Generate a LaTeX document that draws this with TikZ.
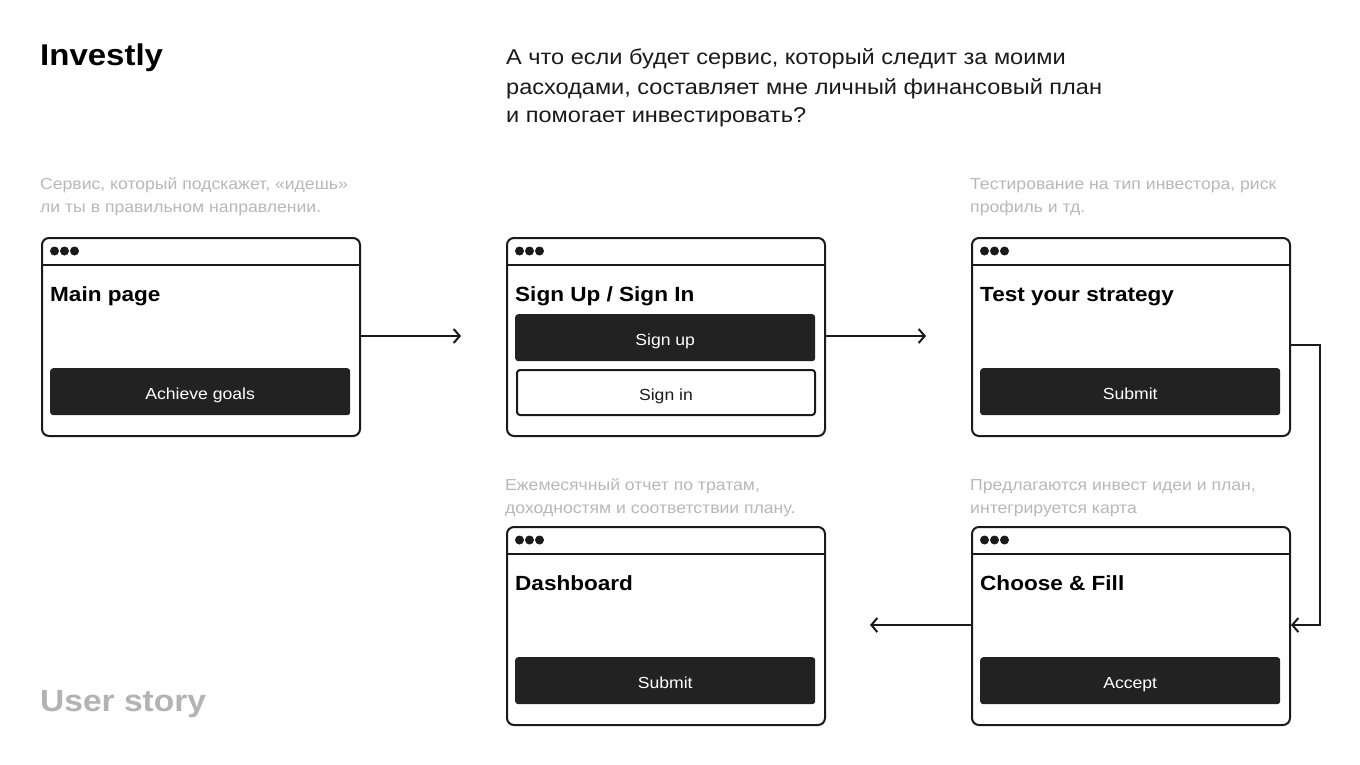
\documentclass[tikz,border=0pt]{standalone}
\usepackage{fontspec}
\setmainfont{Liberation Sans}[FakeStretch=1.1]
\usetikzlibrary{arrows.meta}
\definecolor{ink}{HTML}{1A1A1A}
\definecolor{btnfill}{HTML}{222222}
\definecolor{notegray}{HTML}{B8B8B8}
\definecolor{storygray}{HTML}{B3B3B3}
\tikzset{
  win/.style={draw=ink, line width=2pt, rounded corners=7pt, minimum width=318pt, minimum height=198pt, inner sep=0pt, anchor=north west, fill=white},
  hdr/.style={draw=ink, line width=2pt},
  dotc/.style={fill=ink, draw=none},
  ttl/.style={anchor=base west, inner sep=0pt, text=black, font=\fontsize{20.5}{24}\selectfont\bfseries},
  btnbox/.style={fill=btnfill, rounded corners=3pt, minimum width=300pt, minimum height=47pt, inner sep=0pt, text=white, text height=16pt, text depth=0pt, font=\fontsize{16}{20}\selectfont},
  btnline/.style={draw=ink, line width=2pt, fill=white, rounded corners=3pt, minimum width=298pt, minimum height=45pt, inner sep=0pt, text=ink, text height=16pt, text depth=0pt, font=\fontsize{16}{20}\selectfont},
  notetxt/.style={anchor=base west, inner sep=0pt, align=left, text=notegray, font=\fontsize{16}{23}\selectfont},
  arr/.style={draw=ink, line width=2pt, -{Straight Barb[length=6pt,width=14pt,line width=2pt]}},
}
\newcommand\uiwin[4]{%
  \node[win] (#1) at (#2,#3) {};
  \draw[hdr] ([yshift=-28pt]#1.north west) -- ([yshift=-28pt]#1.north east);
  \fill[dotc] ([xshift=13.5pt,yshift=-14pt]#1.north west) circle (4.5pt);
  \fill[dotc] ([xshift=23.5pt,yshift=-14pt]#1.north west) circle (4.5pt);
  \fill[dotc] ([xshift=33.5pt,yshift=-14pt]#1.north west) circle (4.5pt);
  \node[ttl] (#1-title) at ([xshift=9pt,yshift=-64pt]#1.north west) {#4};
}
\begin{document}
\begin{tikzpicture}[x=1pt,y=-1pt]
\useasboundingbox[fill=white] (0,0) rectangle (1360,765);

\node[anchor=base west, inner sep=0pt, font=\fontsize{30}{34}\selectfont\bfseries] (brand) at (40,66) {Investly};
\node[anchor=base west, inner sep=0pt, font=\fontsize{21.4}{29}\selectfont, align=left, text=ink] (question) at (506,123)
  {А что если будет сервис, который следит за моими\\расходами, составляет мне личный финансовый план\\и помогает инвестировать?};
\node[anchor=base west, inner sep=0pt, font=\fontsize{30.5}{34}\selectfont\bfseries, text=storygray] (story) at (40,711) {User story};

\node[notetxt] (n1) at (40,212) {Сервис, который подскажет, «идешь»\\ли ты в правильном направлении.};
\node[notetxt] (n3) at (970,212) {Тестирование на тип инвестора, риск\\профиль и тд.};
\node[notetxt] (n4) at (505,513) {Ежемесячный отчет по тратам,\\доходностям и соответствии плану.};
\node[notetxt] (n5) at (970,513) {Предлагаются инвест идеи и план,\\интегрируется карта};

\uiwin{w1}{41}{237}{Main page}
\uiwin{w2}{506}{237}{Sign Up / Sign In}
\uiwin{w3}{971}{237}{Test your strategy}
\uiwin{w4}{506}{526}{Dashboard}
\uiwin{w5}{971}{526}{Choose \& Fill}

\node[btnbox, anchor=north west] (b1) at (50,368) {Achieve goals};
\node[btnbox, anchor=north west] (b2a) at (515,314) {Sign up};
\node[btnline, anchor=north west] (b2b) at (516,369) {Sign in};
\node[btnbox, anchor=north west] (b3) at (980,368) {Submit};
\node[btnbox, anchor=north west] (b4) at (515,657) {Submit};
\node[btnbox, anchor=north west] (b5) at (980,657) {Accept};

\coordinate (t12) at (461,336);
\coordinate (t23) at (926,336);
\coordinate (t54) at (870,625);
\draw[arr] (w1.east |- t12) -- (t12);
\draw[arr] (w2.east |- t23) -- (t23);
\draw[arr] ([yshift=-8pt]w3.east) -| (1320,625) -- (w5.east |- t54);
\draw[arr] (w5.west |- t54) -- (t54);
\end{tikzpicture}
\end{document}
